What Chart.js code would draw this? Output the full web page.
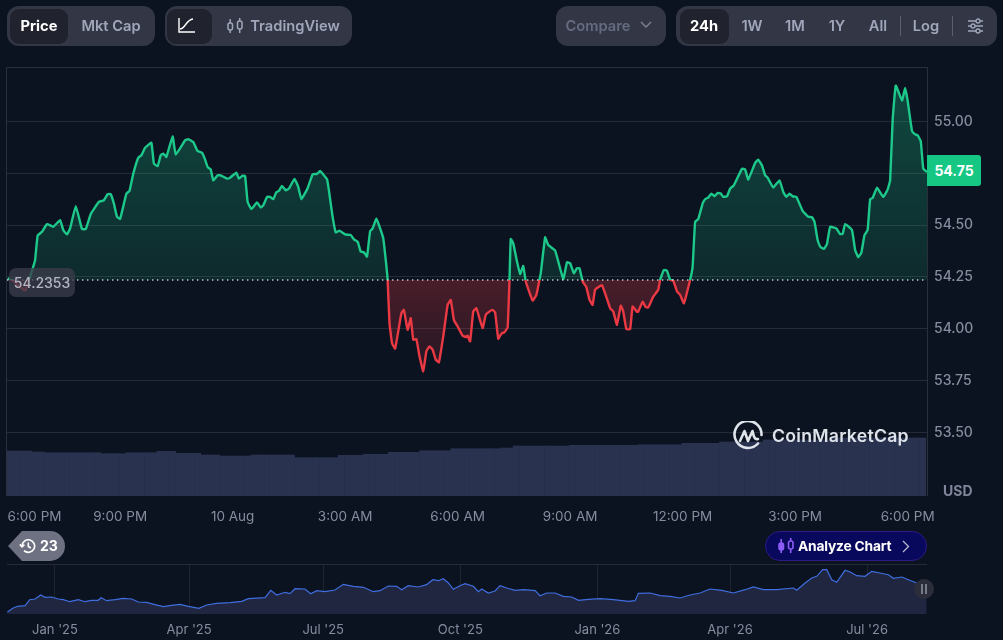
<!DOCTYPE html>
<html>
<head>
<meta charset="utf-8">
<title>Price chart</title>
<script src="https://cdn.jsdelivr.net/npm/chart.js@4/dist/chart.umd.min.js"></script>
<style>
  html, body { margin: 0; padding: 0; background: #0c1320; }
  body { width: 1003px; height: 640px; overflow: hidden; position: relative; font-family: Inter, "Noto Sans", sans-serif; }
  canvas { position: absolute; left: 0; }
  #main { top: 0; }
  #nav { top: 530px; }
  .abs { position: absolute; box-sizing: border-box; }
  .group { background: #323645; border-radius: 12px; height: 40px; top: 6px; }
  .active { background: #20222d; border-radius: 9px; height: 35px; top: 9px; }
  .btn { top: 6px; height: 40px; line-height: 40px; font-size: 14.7px; font-weight: 600; color: #a1a7bb; transform: translateX(-50%); white-space: nowrap; }
  .btn.on { color: #fff; font-weight: 700; }
  .sep { width: 1px; background: #5a5f72; top: 16px; height: 20px; }
</style>
</head>
<body>
<canvas id="main" width="1003" height="530"></canvas>
<canvas id="nav" width="1003" height="110"></canvas>

<!-- top toolbar -->
<div class="abs group" style="left:7px;width:148px"></div>
<div class="abs active" style="left:10px;width:58px"></div>
<div class="abs btn on" style="left:39px">Price</div>
<div class="abs btn" style="left:111px">Mkt Cap</div>

<div class="abs group" style="left:165px;width:187px"></div>
<div class="abs active" style="left:167px;width:45px"></div>
<svg class="abs" style="left:178px;top:17px" width="18" height="17" viewBox="0 0 18 17" fill="none" stroke="#fff" stroke-width="1.4"><path d="M1 1v14h16"/><path d="M2 12c5 0 6-9 13-10"/></svg>
<svg class="abs" style="left:227px;top:18px" width="16" height="16" viewBox="0 0 16 16" fill="none" stroke="#a1a7bb" stroke-width="1.5"><rect x="1" y="5" width="4.5" height="7" rx="2"/><path d="M3.2 1v4M3.2 12v3"/><rect x="10.5" y="3" width="4.5" height="8" rx="2"/><path d="M12.7 0v3M12.7 11v4"/></svg>
<div class="abs btn" style="left:295px">TradingView</div>

<div class="abs group" style="left:556px;width:110px"></div>
<div class="abs btn" style="left:598px;color:#656b80">Compare</div>
<svg class="abs" style="left:640px;top:21px" width="12" height="8" viewBox="0 0 12 8" fill="none" stroke="#7d8296" stroke-width="1.4"><path d="M1 1l5 5 5-5"/></svg>

<div class="abs group" style="left:676px;width:321px"></div>
<div class="abs active" style="left:680px;width:49px"></div>
<div class="abs btn on" style="left:704px">24h</div>
<div class="abs btn" style="left:752px">1W</div>
<div class="abs btn" style="left:795px">1M</div>
<div class="abs btn" style="left:837px">1Y</div>
<div class="abs btn" style="left:878px">All</div>
<div class="abs sep" style="left:900px"></div>
<div class="abs btn" style="left:926px">Log</div>
<div class="abs sep" style="left:952px"></div>
<svg class="abs" style="left:968px;top:18px" width="15" height="16" viewBox="0 0 15 16" fill="none" stroke="#a1a7bb" stroke-width="1.3"><path d="M0 3h15M0 8h15M0 13h15"/><circle cx="10" cy="3" r="2" fill="#323645"/><circle cx="5" cy="8" r="2" fill="#323645"/><circle cx="10" cy="13" r="2" fill="#323645"/></svg>

<!-- chart overlays -->
<div class="abs" style="left:9px;top:268px;width:66px;height:29px;line-height:29px;text-align:center;background:rgba(58,60,74,.78);border-radius:7px;color:#b4b7c5;font-size:14px;font-weight:500">54.2353</div>
<div class="abs" style="left:927px;top:155px;width:54px;height:31px;line-height:31px;text-align:center;background:#16c784;border-radius:0 3px 3px 0;color:#fff;font-size:14px;font-weight:700">54.75</div>
<div class="abs" style="left:943px;top:482px;color:#80859a;font-size:14px;font-weight:700">USD</div>

<svg class="abs" style="left:733px;top:421px" width="30" height="30" viewBox="0 0 30 30" fill="none" stroke="#dfe3ea" stroke-width="2.6" stroke-linecap="round" stroke-linejoin="round"><path d="M25 22.5A13.5 13.5 0 1 1 28.5 14"/><path d="M7 20l4.5-10 3.5 10 4.5-10c1 4 1.5 9 5.5 8"/></svg>
<div class="abs" style="left:772px;top:425px;color:#dfe3ea;font-size:17.7px;font-weight:600;letter-spacing:.25px;white-space:nowrap">CoinMarketCap</div>

<!-- history / analyze pills -->
<svg class="abs" style="left:7px;top:531px" width="58" height="30" viewBox="0 0 58 30"><path d="M15 0h28a15 15 0 0 1 0 30H15L1 15z" fill="#6e7182"/></svg>
<svg class="abs" style="left:19px;top:538px" width="17" height="16" viewBox="0 0 17 16" fill="none" stroke="#fff" stroke-width="1.6"><path d="M3 8a6.3 6.3 0 1 1 2 4.7"/><path d="M0.8 6.4L3 8.8l2.4-2.2"/><path d="M9.3 4.5v4l2.6 1.5"/></svg>
<div class="abs" style="left:40px;top:531px;height:30px;line-height:30px;color:#fff;font-size:14px;font-weight:700">23</div>

<div class="abs" style="left:765px;top:531px;width:162px;height:30px;background:#08085c;border:1px solid #2f1a86;border-radius:15px"></div>
<svg class="abs" style="left:778px;top:538px" width="16" height="16" viewBox="0 0 16 16" fill="none" stroke="#8b5cf6" stroke-width="1.6"><rect x="1" y="5" width="4.5" height="7" rx="2" fill="#8b5cf6"/><path d="M3.2 1v4M3.2 12v3"/><rect x="10.5" y="3" width="4.5" height="8" rx="2"/><path d="M12.7 0v3M12.7 11v4"/></svg>
<div class="abs" style="left:798px;top:531px;height:30px;line-height:30px;color:#fff;font-size:13.8px;font-weight:700;letter-spacing:-.2px;white-space:nowrap">Analyze Chart</div>
<svg class="abs" style="left:902px;top:540px" width="8" height="13" viewBox="0 0 8 13" fill="none" stroke="#b9bbd0" stroke-width="1.3"><path d="M1 1l5.5 5.5L1 12"/></svg>

<div class="abs" style="left:914px;top:579px;width:20px;height:20px;border-radius:50%;background:#2b2e3a"></div>
<svg class="abs" style="left:921px;top:584px" width="6" height="10" viewBox="0 0 6 10" stroke="#a9acba" stroke-width="1.2"><path d="M1 0v10M5 0v10"/></svg>

<script>
// minutes since 6:00 PM on the left edge of the main chart
const priceMinutes = [0,9,28,41,44,48,55,63,73,84,89,95,100,109,119,125,133,146,154,160,165,170,175,180,190,195,201,209,214,220,230,234,240,245,249,254,264,269,284,289,297,304,311,316,320,325,329,336,341,351,356,366,370,376,380,384,390,399,405,409,415,420,425,430,434,439,445,450,459,465,470,480,488,495,500,511,514,520,525,531,
  540,549,554,560,565,570,575,580,584,590,596,601,605,608,611,615,620,630,634,640,645,649,654,659,665,670,675,680,685,690,697,704,709,714,720,728,734,736,740,745,750,760,765,771,776,780,785,790,795,800,803,805,809,815,820,825,829,840,846,853,860,865,876,889,895,900,906,911,915,920,926,931,936,940,951,964,969,975,981,985,990,996,1000,1007,1009,1016,1021,1025,1033,1041,1044,1050,1055,1060,
  1065,1071,1076,1082,1092,1096,1100,1105,1112,1116,1121,1126,1131,1136,1141,1145,1151,1156,1162,1175,1180,1185,1196,1201,1207,1212,1216,1225,1235,1241,1246,1251,1256,1262,1272,1281,1287,1291,1296,1300,1306,1311,1316,1326,1332,1336,1340,1351,1356,1361,1366,1371,1376,1380,1384,1391,1401,1408,1412,1416,1421,1431,1436,1440,1447,1452,1456,1461,1465,1471];
const prices = [54.243,54.232,54.184,54.30,54.332,54.449,54.468,54.505,54.492,54.524,54.476,54.455,54.484,54.591,54.481,54.481,54.553,54.612,54.620,54.649,54.649,54.604,54.540,54.530,54.652,54.665,54.748,54.825,54.837,54.873,54.897,54.797,54.784,54.837,54.845,54.829,54.928,54.840,54.909,54.915,54.901,54.857,54.849,54.816,54.780,54.769,54.716,54.740,54.740,54.724,54.729,54.753,54.724,54.739,54.736,54.612,54.577,54.609,54.585,54.595,54.636,54.636,54.625,54.659,54.665,54.689,54.668,54.676,54.723,54.684,54.625,54.678,54.745,54.747,54.761,54.721,54.668,54.540,54.465,54.473,
  54.455,54.452,54.431,54.420,54.372,54.369,54.348,54.471,54.484,54.532,54.484,54.436,54.332,54.236,54.027,53.931,53.904,54.075,54.091,53.995,54.051,53.947,53.950,53.867,53.795,53.891,53.915,53.899,53.851,53.838,53.963,54.115,54.139,54.043,54.011,53.966,53.960,53.966,53.939,54.083,54.099,54.003,54.067,54.083,54.091,54.079,53.952,53.976,53.984,54.006,54.236,54.433,54.412,54.324,54.264,54.303,54.228,54.136,54.163,54.268,54.441,54.404,54.377,54.240,54.321,54.316,54.268,54.292,54.292,54.228,54.200,54.139,54.115,54.188,54.210,54.099,54.083,54.019,54.111,54.083,53.998,53.998,54.107,54.082,54.083,54.130,54.104,54.103,54.155,54.188,54.236,54.284,54.279,54.236,
  54.232,54.180,54.164,54.123,54.236,54.300,54.516,54.529,54.604,54.625,54.633,54.652,54.639,54.655,54.652,54.636,54.639,54.676,54.692,54.772,54.769,54.720,54.800,54.816,54.788,54.740,54.729,54.681,54.716,54.660,54.636,54.652,54.639,54.636,54.569,54.540,54.538,54.516,54.428,54.396,54.385,54.409,54.492,54.484,54.457,54.457,54.505,54.476,54.380,54.345,54.367,54.452,54.476,54.625,54.631,54.681,54.636,54.671,54.716,55.005,55.173,55.101,55.162,55.101,54.954,54.938,54.933,54.905,54.772,54.756];
const basePrice = 54.2353;
const volumes = [45,45,45,45,44,44,43.3,43.3,43.3,43.3,43.3,43.3,43.3,43.3,43.3,42.3,42.3,42.3,42.3,43.3,43.3,43.3,43.3,43.3,44.6,44.6,44.6,42.7,42.7,42.7,42.7,41,41,41,40,40,40,40,40,41,41,41,41,41,41,41,38.3,38.3,38.3,38.3,38.3,38.3,38.3,40.7,40.7,40.7,40.7,41.7,41.7,41.7,41.7,43.7,43.7,43.7,43.7,43.7,45.3,45.3,45.3,45.3,45.3,47.3,47.3,47.3,47.3,47.3,47.3,47.3,47.3,48,48,50,50,50,50,50,50,50,50,50,50.7,50.7,50.7,50.7,50.7,50.7,50.7,50.7,50.7,50.7,50.7,51.3,51.3,51.3,51.3,51.3,51.3,51.3,52.7,52.7,52.7,52.7,52.7,52.7,54,54,54,54,54,54,54,56,56,56,56,56,56,56,56,56,56,56,58,58,58,58,58,58,58,58,58,58,58,58,58,58,58];
const yTicks = [53.5,53.75,54,54.25,54.5,54.75,55];
const xTickMinutes = [43,180,360,540,720,900,1080,1260,1440];
const xTickLabels = ["6:00 PM","9:00 PM","10 Aug","3:00 AM","6:00 AM","9:00 AM","12:00 PM","3:00 PM","6:00 PM"];

// overview strip: day on the overview axis, curve height
const navDays = [-32,-28,-25,-20,-17,-13.4,-9.6,-6.7,-2.2,2.2,5.6,10,15.7,20.1,24.6,29,30.9,34.7,40.3,45.9,51.5,56,61.5,67.1,72.7,78.3,83.9,89.5,96.6,101.8,108.5,117.5,125.3,129.8,141,144.8,148.8,154.4,157.7,161.1,167.8,171.6,175.6,181.2,187.9,193.5,200.2,207,213.6,218.1,223.7,229.3,232.7,237.1,243.8,249.4,253.5,257.3,260.6,264,267.3,271.8,275.2,280.8,284.1,286.4,290.8,295.3,298.7,
  303.2,308.8,314.4,322.2,325.5,330,335.6,341.2,346.8,351.3,358,365.8,374.8,384.8,389.3,391.5,399.4,406.1,412.8,419.5,426.2,432.9,439.6,447.5,455.3,463.1,468.7,475.4,484.4,495.6,497.8,503.4,507.9,511.2,515.2,517.9,521.3,524.6,530.2,533.6,538,543.6,548.1,553.7,559.3,562.7,568.3,572.7,578.3,585];
const navValues = [2,6,7.7,8.3,14.3,15,19,16.7,17,15,14.3,12.3,14.3,12.3,13.7,13.7,16.3,13.3,14.3,15.7,15,12,11.7,9.3,7.3,8.7,9.7,7.7,5.7,9,10.7,11.3,12.7,15.3,16.3,23.7,19,21.7,20.3,25.3,25,20.3,23.3,22.3,24,29.7,27.7,26.7,22.3,23.3,28,27.7,24.3,28.3,27,29.3,34.3,33.3,35.3,31,24.7,28.3,30.3,27.7,22.3,25,21,23,28.3,
  26,23.7,24.3,23.3,18.3,21,21,17.7,17,13.7,14.7,15.3,14.3,12.7,13.3,20.7,21,18.3,17.7,16,19,21,25,23.7,21,24.3,27,24.3,24.3,26,23.7,31,36,37.7,44.3,44.3,34.3,31.7,43.7,42,38.3,37.7,42.7,41,39.3,35.7,37,34.3,31,30.3];
const navTickDays = [0,90,180,272,364,453,545];
const navTickLabels = ["Jan '25","Apr '25","Jul '25","Oct '25","Jan '26","Apr '26","Jul '26"];

const GREEN = "#1cc88a", RED = "#ea3943";
const TICK = "#878c9f", GRID = "#262b37";
Chart.defaults.font.family = 'Inter, "Noto Sans", sans-serif';

// line colour flips at the opening price
function lineGradient(ctx) {
  const { chart } = ctx;
  const a = chart.chartArea;
  if (!a) return GREEN;
  const g = chart.ctx.createLinearGradient(0, a.top, 0, a.bottom);
  const f = (chart.scales.y.getPixelForValue(basePrice) - a.top) / (a.bottom - a.top);
  g.addColorStop(0, GREEN); g.addColorStop(f, GREEN);
  g.addColorStop(f, RED); g.addColorStop(1, RED);
  return g;
}
function baseFill(ctx) {
  const { chart } = ctx;
  const a = chart.chartArea;
  if (!a) return false;
  const y = chart.scales.y;
  const up = chart.ctx.createLinearGradient(0, y.getPixelForValue(55.2), 0, y.getPixelForValue(basePrice));
  up.addColorStop(0, "rgba(28,200,138,.30)");
  up.addColorStop(1, "rgba(28,200,138,.13)");
  const dn = chart.ctx.createLinearGradient(0, y.getPixelForValue(basePrice), 0, y.getPixelForValue(53.78));
  dn.addColorStop(0, "rgba(234,57,67,.28)");
  dn.addColorStop(1, "rgba(234,57,67,.10)");
  return { target: { value: basePrice }, above: up, below: dn };
}

const framePlugin = {
  id: "frame",
  beforeDatasetsDraw(chart) {
    const { ctx, chartArea: a } = chart;
    ctx.save();
    ctx.strokeStyle = "#2a2f3c";
    ctx.lineWidth = 1;
    ctx.beginPath();
    ctx.moveTo(a.left - 0.5, a.bottom);
    ctx.lineTo(a.left - 0.5, a.top - 0.5);
    ctx.lineTo(a.right + 0.5, a.top - 0.5);
    ctx.lineTo(a.right + 0.5, a.bottom);
    ctx.stroke();
    ctx.restore();
  },
};

new Chart(document.getElementById("main"), {
  type: "line",
  plugins: [framePlugin],
  data: {
    datasets: [
      { type: "line", data: [{ x: -1, y: basePrice }, { x: 1471, y: basePrice }], borderColor: "rgba(255,255,255,.75)", borderWidth: 1.4, borderDash: [1.4, 3.6], pointRadius: 0, fill: false, order: 0 },
      { type: "line", data: priceMinutes.map((m, i) => ({ x: m, y: prices[i] })), borderColor: lineGradient, borderWidth: 2.4, pointRadius: 0, tension: 0.1, borderJoinStyle: "round", fill: baseFill, order: 1 },
      { type: "bar", yAxisID: "vol", data: volumes.map((v, i) => ({ x: i * 10 + 4, y: v })), backgroundColor: "#29324f", barThickness: 6.25, borderWidth: 0, order: 2 },
    ],
  },
  options: {
    responsive: false, animation: false, devicePixelRatio: 1,
    layout: { padding: { left: 7, top: 68, right: 0, bottom: 0 } },
    plugins: { legend: { display: false }, tooltip: { enabled: false } },
    scales: {
      x: {
        type: "linear", min: -1, max: 1471, offset: false,
        grid: { display: false, offset: false }, border: { display: false },
        afterBuildTicks: (ax) => { ax.ticks = xTickMinutes.map((value) => ({ value })); },
        afterFit: (ax) => { ax.height = 34; ax.paddingLeft = 0; ax.paddingRight = 0; },
        ticks: { autoSkip: false, maxRotation: 0, color: TICK, padding: 5, font: { size: 13.5, weight: "400" }, callback: (v, i) => xTickLabels[i] },
      },
      y: {
        position: "right", min: 53.193, max: 55.258,
        grid: { color: GRID, drawTicks: false }, border: { display: false },
        afterBuildTicks: (ax) => { ax.ticks = yTicks.map((value) => ({ value })); },
        afterFit: (ax) => { ax.width = 76; },
        ticks: { color: TICK, padding: 7, font: { size: 14, weight: "500" }, callback: (v) => v.toFixed(2) },
      },
      vol: { display: false, min: 0, max: 428 },
    },
  },
});

new Chart(document.getElementById("nav"), {
  type: "line",
  data: {
    datasets: [{
      data: navDays.map((d, i) => ({ x: d, y: navValues[i] })),
      borderColor: "#3f6ee0", borderWidth: 1.2, pointRadius: 0, tension: 0,
      fill: "origin", backgroundColor: "#20263f",
    }],
  },
  options: {
    responsive: false, animation: false, devicePixelRatio: 1,
    layout: { padding: { left: 7, top: 34, right: 76, bottom: 0 } },
    plugins: { legend: { display: false }, tooltip: { enabled: false } },
    scales: {
      x: {
        type: "linear", min: -32.2, max: 585.2,
        grid: { color: "#20242e", drawTicks: false }, border: { display: false },
        afterBuildTicks: (ax) => { ax.ticks = navTickDays.map((value) => ({ value })); },
        afterFit: (ax) => { ax.height = 26; ax.paddingLeft = 0; ax.paddingRight = 0; },
        ticks: { autoSkip: false, maxRotation: 0, color: TICK, padding: 8, font: { size: 13 }, callback: (v, i) => navTickLabels[i] },
      },
      y: {
        display: true, min: 0, max: 50,
        grid: { display: true, color: (c) => (c.tick.value === 50 ? "#262a35" : "transparent"), drawTicks: false },
        border: { display: false },
        ticks: { display: false, stepSize: 50 },
        afterFit: (ax) => { ax.width = 0; },
      },
    },
  },
});
</script>
</body>
</html>
